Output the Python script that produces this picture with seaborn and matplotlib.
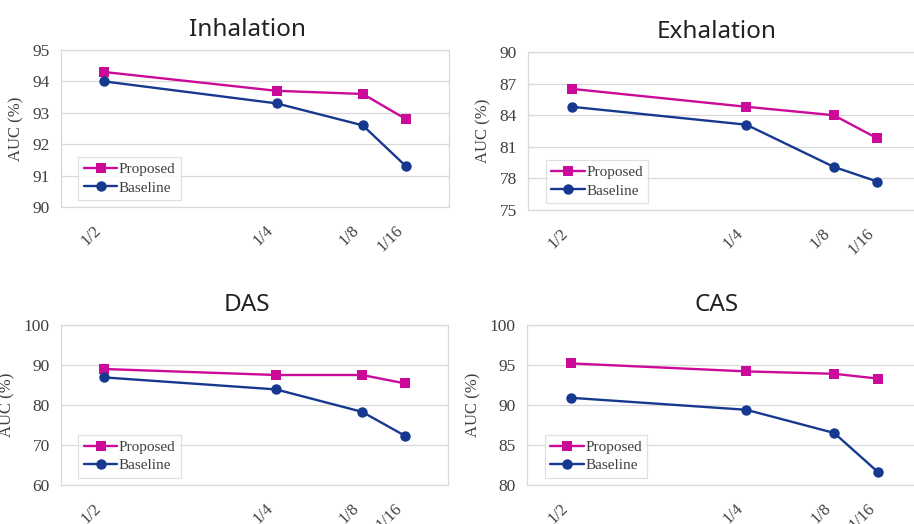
import matplotlib
matplotlib.use("Agg")
import matplotlib.pyplot as plt
import numpy as np
import pandas as pd
import seaborn as sns

# ratios de datos etiquetados
ratios = [1/2, 1/4, 1/8, 1/16]
ratio_labels = ["1/2", "1/4", "1/8", "1/16"]

titles = ["Inhalation", "Exhalation", "DAS", "CAS"]

proposed = {
    "Inhalation": [94.3, 93.7, 93.6, 92.8],
    "Exhalation": [86.5, 84.8, 84.0, 81.8],
    "DAS": [89.0, 87.5, 87.5, 85.4],
    "CAS": [95.2, 94.2, 93.9, 93.3],
}
baseline = {
    "Inhalation": [94.0, 93.3, 92.6, 91.3],
    "Exhalation": [84.8, 83.1, 79.1, 77.7],
    "DAS": [86.9, 83.9, 78.3, 72.3],
    "CAS": [90.9, 89.4, 86.5, 81.6],
}

y_ticks = {
    "Inhalation": [90, 91, 92, 93, 94, 95],
    "Exhalation": [75, 78, 81, 84, 87, 90],
    "DAS": [60, 70, 80, 90, 100],
    "CAS": [80, 85, 90, 95, 100],
}

colores = {"Proposed": "#CC0A99", "Baseline": "#16398F"}
marcadores = {"Proposed": "s", "Baseline": "o"}

sns.set_style("white")
plt.rcParams["font.family"] = ["Liberation Serif", "DejaVu Serif"]

fig = plt.figure(figsize=(9.14, 5.24), dpi=100)
W, H = 914, 524
# (left, top, right, bottom) en pixeles
cajas = [
    (61, 50, 449, 207),
    (528, 52, 921, 210),
    (61, 325, 448, 485),
    (527, 325, 922, 485),
]

grid_color = "#D9D9D9"
texto = "#404040"

for nombre, (l, t, r, b) in zip(titles, cajas):
    ax = fig.add_axes([l / W, 1 - b / H, (r - l) / W, (b - t) / H])
    df = pd.DataFrame({
        "ratio": ratios * 2,
        "auc": proposed[nombre] + baseline[nombre],
        "method": ["Proposed"] * 4 + ["Baseline"] * 4,
    })
    sns.lineplot(data=df, x="ratio", y="auc", hue="method", style="method",
                 hue_order=["Proposed", "Baseline"], palette=colores,
                 markers=marcadores, dashes=False, linewidth=1.7,
                 markersize=7.5, markeredgewidth=0, ax=ax)
    ax.set_xlim(9/16, 0)
    yt = y_ticks[nombre]
    ax.set_ylim(yt[0], yt[-1])
    ax.set_yticks(yt)
    ax.set_xticks(ratios)
    ax.set_xticklabels(ratio_labels, rotation=45, ha="right")
    ax.set_xticks([k / 16 for k in (3, 5, 6, 7)], minor=True)
    ax.tick_params(axis="x", which="both", direction="in", length=4,
                   color="#BFBFBF", width=0.8, pad=11, labelsize=12,
                   labelcolor=texto)
    ax.tick_params(axis="y", length=0, pad=8, labelsize=12.5, labelcolor=texto)
    ax.yaxis.grid(True, color=grid_color, linewidth=0.9)
    ax.set_axisbelow(True)
    for s in ax.spines.values():
        s.set_color(grid_color)
        s.set_linewidth(0.9)
    ax.set_xlabel("")
    ax.set_ylabel("AUC (%)", fontsize=12, color=texto, labelpad=6)
    ax.set_title(nombre, fontsize=17.5, family="Noto Sans", color="#222222",
                 pad=10, x=0.48)
    sns.move_legend(ax, "lower left", bbox_to_anchor=(0.045, 0.045),
                    title=None, frameon=True, fancybox=False,
                    edgecolor=grid_color, fontsize=11, handlelength=2.2,
                    handletextpad=0.1, borderpad=0.35, labelspacing=0.3,
                    borderaxespad=0)
    leg = ax.get_legend()
    leg.get_frame().set_linewidth(0.9)
    for txt in leg.get_texts():
        txt.set_color(texto)

fig.savefig("out.png", dpi=100)
